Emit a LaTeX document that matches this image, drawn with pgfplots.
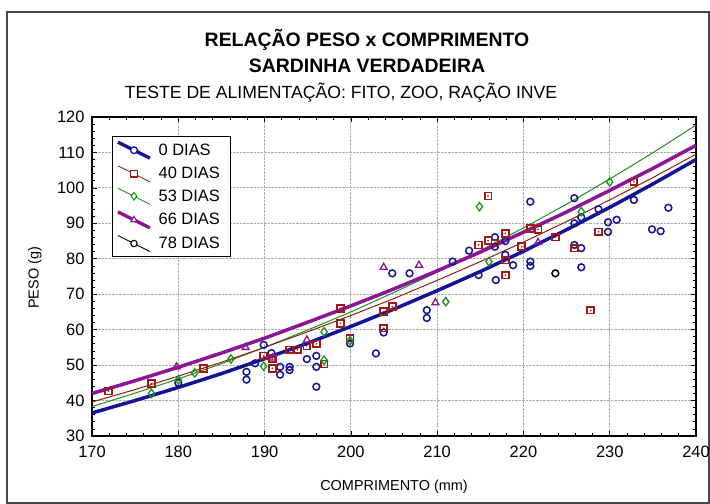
\documentclass[border=0pt]{standalone}
\usepackage{pgfplots}
\pgfplotsset{compat=1.18}
\usepackage{pgfplotstable}
\usepackage{fontspec}
\setmainfont{Liberation Sans}
\definecolor{cblue}{RGB}{20,20,150}
\definecolor{cred}{RGB}{160,25,20}
\definecolor{cgreen}{RGB}{25,150,25}
\definecolor{cpurple}{RGB}{140,20,150}

\pgfplotstableread{
x y
180.0 45.0
187.9 48.1
187.9 45.9
188.9 50.5
189.9 55.7
190.8 53.4
191.8 49.5
191.8 47.3
192.9 49.5
192.9 48.6
194.9 51.7
196.0 52.6
196.0 49.5
196.0 43.9
199.9 56.1
202.9 53.3
203.8 59.2
204.8 75.9
206.8 75.9
208.8 65.5
208.8 63.3
211.8 79.2
213.7 82.3
214.8 75.4
216.7 86.1
216.7 83.4
216.8 74.0
217.9 85.0
217.9 81.1
218.8 78.2
220.8 96.1
220.8 79.2
220.8 78.0
225.9 97.1
225.9 90.0
225.9 83.9
226.7 91.7
226.7 83.0
226.7 77.6
228.7 94.0
229.8 90.3
229.8 87.6
230.8 91.0
232.8 96.6
234.9 88.3
235.9 87.8
236.8 94.4
}\dblue

\pgfplotstableread{
x y
171.9 42.7
176.9 44.8
182.9 49.0
189.9 52.6
190.9 51.8
190.9 49.1
192.9 54.3
193.8 54.3
194.9 55.4
196.0 56.0
196.9 50.3
198.8 66.0
198.8 61.8
199.9 57.6
203.8 65.1
204.8 66.5
203.8 60.4
214.8 83.9
215.9 85.1
215.9 97.7
216.7 84.4
217.9 87.2
217.9 79.6
217.9 75.4
219.8 83.4
220.8 88.6
221.7 88.3
223.7 86.1
225.9 83.0
227.8 65.5
228.7 87.6
232.8 101.7
}\dred

\pgfplotstableread{
x y
176.9 42.0
180.0 45.8
181.9 47.8
186.1 51.7
189.9 49.7
196.9 51.4
196.9 59.4
199.9 56.9
211.0 67.9
214.9 94.7
216.0 79.2
226.7 93.3
230.0 101.7
}\dgreen

\pgfplotstableread{
x y
179.8 49.5
187.8 55.0
190.9 52.0
194.9 57.1
203.8 77.6
207.9 78.2
209.8 67.6
221.7 84.6
}\dpurple

\pgfplotstableread{
x y
223.7 75.9
}\dblack

\pgfplotstableread{
x blue red green purple
170 36.5 39.6 38.3 42.0
175 40.0 43.1 42.1 45.6
180 43.7 46.9 46.1 49.4
185 47.6 50.8 50.4 53.4
190 51.8 55.0 55.0 57.6
195 56.2 59.4 59.9 62.1
200 60.9 64.0 65.0 66.7
205 65.8 68.8 70.5 71.5
210 71.0 73.9 76.2 76.6
215 76.4 79.2 82.3 81.9
220 82.1 84.7 88.7 87.5
225 88.2 90.5 95.4 93.2
230 94.5 96.6 102.5 99.3
235 101.1 102.9 109.9 105.5
240 108.0 109.5 117.7 112.0
}\dfit

\begin{document}
\begin{tikzpicture}[x=1bp,y=1bp]
\useasboundingbox (0,0) rectangle (710,504);
\draw[gray!55!black, line width=1.6bp] (7,1) rectangle (709,492);
\node[font=\fontsize{19.5}{22}\selectfont\bfseries] at (367,464) {RELAÇÃO PESO x COMPRIMENTO};
\node[font=\fontsize{19.5}{22}\selectfont\bfseries] at (367,438) {SARDINHA VERDADEIRA};
\node[font=\fontsize{17.7}{20}\selectfont] at (341,411) {TESTE DE ALIMENTAÇÃO: FITO, ZOO, RAÇÃO INVE};
\node[font=\fontsize{14.5}{17}\selectfont, rotate=90] at (35,226) {PESO (g)};
\node[font=\fontsize{14.5}{17}\selectfont] at (394,17) {COMPRIMENTO (mm)};
\begin{axis}[
  at={(92bp,68bp)}, anchor=south west,
  width=604bp, height=319bp, scale only axis,
  xmin=170, xmax=240, ymin=30, ymax=120,
  xtick={170,180,...,240}, ytick={30,40,...,120},
  minor x tick num=4, minor y tick num=4,
  tick align=inside, major tick length=5bp, minor tick length=3bp,
  xtick pos=both, ytick pos=both,
  grid=major, grid style={densely dotted, gray!65, line width=0.8bp},
  axis line style={line width=1.1bp},
  tick style={black, line width=0.7bp},
  ticklabel style={font=\fontsize{16.5}{19}\selectfont},
  xticklabel style={yshift=-7bp},
  yticklabel style={xshift=-4bp},
  /pgf/number format/assume math mode=true,
  legend style={at={(0.033,0.94)}, anchor=north west, draw=black, line width=0.8bp,
    font=\fontsize{16.5}{19}\selectfont, row sep=5.5bp, inner xsep=4bp, inner ysep=4bp},
  legend cell align=left,
  legend image code/.code={\draw[mark repeat=2,mark phase=2,#1] plot coordinates {(0bp,8bp) (16bp,0bp) (32bp,-8bp)};},
]
\addlegendimage{cblue, line width=3.3bp, mark=*, mark size=3.4bp, mark options={solid, fill=white, line width=1.3bp}}
\addlegendentry{\hspace*{5bp}0 DIAS\hspace*{14bp}}
\addlegendimage{cred, line width=0.9bp, mark=square*, mark size=3.2bp, mark options={solid, fill=white, line width=1.1bp}}
\addlegendentry{\hspace*{5bp}40 DIAS}
\addlegendimage{cgreen, line width=0.9bp, mark=diamond*, mark size=3.8bp, mark options={solid, fill=white, line width=1.1bp}}
\addlegendentry{\hspace*{5bp}53 DIAS}
\addlegendimage{cpurple, line width=3.3bp, mark=triangle*, mark size=3.6bp, mark options={solid, fill=white, line width=1.1bp}}
\addlegendentry{\hspace*{5bp}66 DIAS}
\addlegendimage{black, line width=0.9bp, mark=*, mark size=3.2bp, mark options={solid, fill=white, line width=1.1bp}}
\addlegendentry{\hspace*{5bp}78 DIAS}

\addplot[only marks, mark=o, mark size=3.4bp, cblue, line width=1.5bp, forget plot] table[x=x,y=y] {\dblue};
\addplot[only marks, mark=square, mark size=3.4bp, cred, line width=1.7bp, forget plot] table[x=x,y=y] {\dred};
\addplot[only marks, mark=*, mark size=0.6bp, cred, forget plot] table[x=x,y=y] {\dred};
\addplot[only marks, mark=diamond, mark size=4.2bp, cgreen, line width=1.3bp, forget plot] table[x=x,y=y] {\dgreen};
\addplot[only marks, mark=triangle, mark size=4bp, cpurple, line width=1.3bp, forget plot] table[x=x,y=y] {\dpurple};
\addplot[only marks, mark=o, mark size=3.4bp, black, line width=1.5bp, forget plot] table[x=x,y=y] {\dblack};

\addplot[cgreen, line width=1bp, forget plot] table[x=x,y=green] {\dfit};
\addplot[cred, line width=1bp, forget plot] table[x=x,y=red] {\dfit};
\addplot[cblue, line width=3.5bp, forget plot] table[x=x,y=blue] {\dfit};
\addplot[cpurple, line width=3.5bp, forget plot] table[x=x,y=purple] {\dfit};
\end{axis}
\end{tikzpicture}
\end{document}
